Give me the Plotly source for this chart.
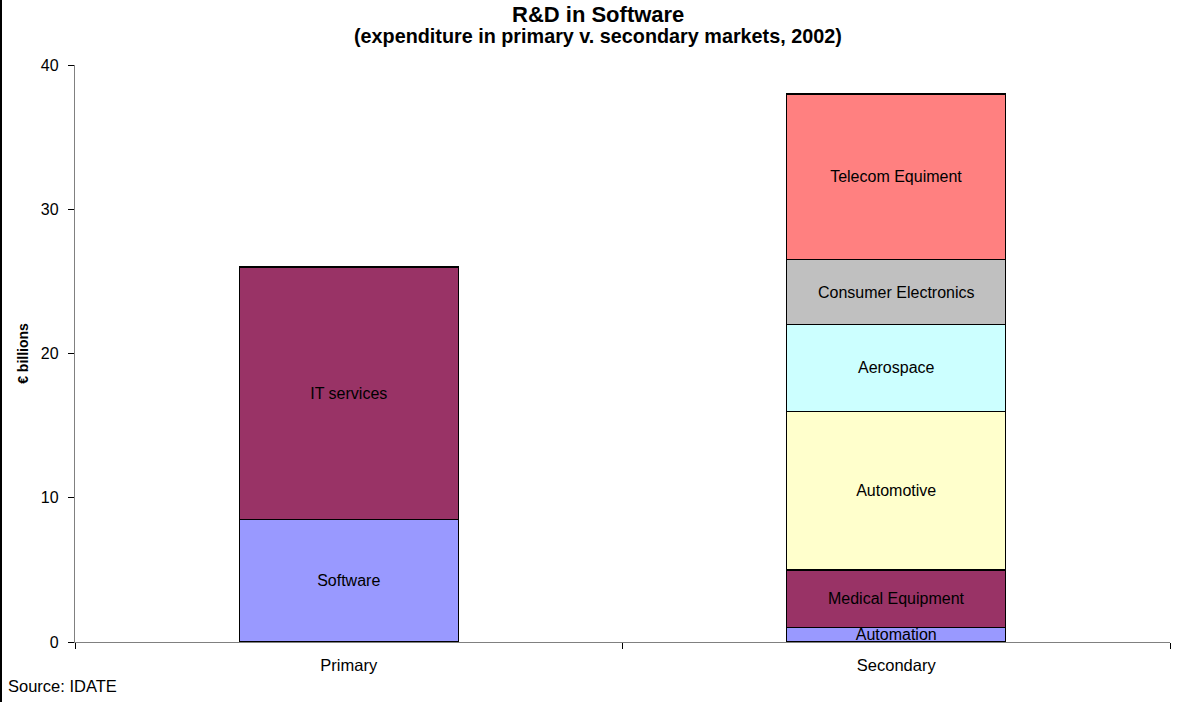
import plotly.graph_objects as go

categories = ["Primary", "Secondary"]
segment_names = ["Software", "IT services", "Automation", "Medical Equipment",
                 "Automotive", "Aerospace", "Consumer Electronics", "Telecom Equiment"]
segment_category = ["Primary", "Primary", "Secondary", "Secondary",
                    "Secondary", "Secondary", "Secondary", "Secondary"]
segment_values = [8.5, 17.5, 1.0, 4.0, 11.0, 6.0, 4.5, 11.5]
segment_colors = ["#9999FF", "#993366", "#9999FF", "#993366",
                  "#FFFFCC", "#CCFFFF", "#C0C0C0", "#FF8080"]
y_ticks = [0, 10, 20, 30, 40]

FONT = "Liberation Sans, Arial, sans-serif"
PW, PH = 1095, 577  # plot area size in px

fig = go.Figure()
for name, cat, val, col in zip(segment_names, segment_category, segment_values, segment_colors):
    fig.add_trace(go.Bar(
        x=[cat], y=[val], name=name,
        marker=dict(color=col, line=dict(color="#000000", width=1.3)),
        text=[name], textposition="inside", insidetextanchor="middle",
        textangle=0,
        textfont=dict(family=FONT, size=16, color="#000000"),
        hoverinfo="skip", showlegend=False,
    ))

fig.update_layout(
    barmode="stack",
    bargap=0.6,
    width=1194, height=702,
    margin=dict(l=75, r=24, t=65, b=60),
    paper_bgcolor="white", plot_bgcolor="white",
    font=dict(family=FONT, size=16, color="#000000"),
    uniformtext=dict(minsize=16, mode="show"),
    xaxis=dict(
        categoryorder="array", categoryarray=categories,
        showline=True, linecolor="#808080", linewidth=1.3,
        ticks="outside", tickson="boundaries", ticklen=6, tickcolor="#000000",
        ticklabelstandoff=8,
        showgrid=False, zeroline=False,
        tickfont=dict(family=FONT, size=16.5, color="#000000"),
    ),
    yaxis=dict(
        range=[0, 40], tickvals=y_ticks,
        showline=True, linecolor="#808080", linewidth=1.3,
        ticks="outside", ticklen=6, tickcolor="#000000",
        ticklabelstandoff=6,
        showgrid=False, zeroline=False,
        tickfont=dict(family=FONT, size=16, color="#000000"),
        title=dict(text="<b>€ billions</b>", standoff=8,
                   font=dict(family=FONT, size=14, color="#000000")),
    ),
)

fig.add_annotation(
    text="<b>R&D in Software</b>", xref="paper", yref="paper",
    x=(598 - 75) / PW, y=(642 - 14) / PH, xanchor="center", yanchor="middle",
    showarrow=False, borderpad=0, font=dict(family=FONT, size=22, color="#000000"),
)
fig.add_annotation(
    text="<b>(expenditure in primary v. secondary markets, 2002)</b>", xref="paper", yref="paper",
    x=(598 - 75) / PW, y=(642 - 36) / PH, xanchor="center", yanchor="middle",
    showarrow=False, borderpad=0, font=dict(family=FONT, size=19.8, color="#000000"),
)
fig.add_annotation(
    text="Source: IDATE", xref="paper", yref="paper",
    x=-69 / PW, y=-44 / PH, xanchor="left", yanchor="middle",
    showarrow=False, font=dict(family=FONT, size=16.5, color="#000000"),
)
fig.add_shape(
    type="line", xref="paper", yref="paper",
    x0=-74 / PW, x1=-74 / PW, y0=-60 / PH, y1=(PH + 65) / PH,
    line=dict(color="#000000", width=2),
)

fig.write_html("out.html", config={"displayModeBar": False},
               post_script="document.body.style.margin='0px';")
